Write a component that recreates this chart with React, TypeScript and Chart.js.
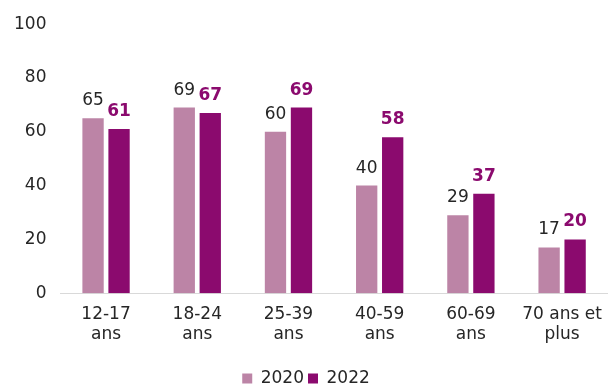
import React, { useEffect, useRef } from "react";
import { Chart, registerables } from "chart.js";

Chart.register(...registerables);

const categories: string[][] = [
  ["12-17", "ans"],
  ["18-24", "ans"],
  ["25-39", "ans"],
  ["40-59", "ans"],
  ["60-69", "ans"],
  ["70 ans et", "plus"],
];
const values2020 = [65, 69, 60, 40, 29, 17];
const values2022 = [61, 67, 69, 58, 37, 20];
const yTicks = [0, 20, 40, 60, 80, 100];

const FONT = "'DejaVu Sans', Verdana, sans-serif";
const SIZE = 17;

const labelPlugin = {
  id: "barLabels",
  afterDatasetsDraw(chart: any) {
    const ctx = chart.ctx;
    chart.data.datasets.forEach((ds: any, di: number) => {
      const meta = chart.getDatasetMeta(di);
      meta.data.forEach((bar: any, i: number) => {
        ctx.save();
        ctx.textAlign = "center";
        ctx.textBaseline = "alphabetic";
        if (di === 0) {
          ctx.font = `${SIZE}px ${FONT}`;
          ctx.fillStyle = "#262626";
        } else {
          ctx.font = `bold ${SIZE}px ${FONT}`;
          ctx.fillStyle = "#8B0A6E";
        }
        ctx.fillText(String(ds.data[i]), bar.x, bar.y - 13);
        ctx.restore();
      });
    });
  },
};

export default function App() {
  const ref = useRef<HTMLCanvasElement>(null);
  useEffect(() => {
    document.body.style.margin = "0";
    const chart = new Chart(ref.current!, {
      type: "bar",
      data: {
        labels: categories,
        datasets: [
          {
            label: "2020",
            data: values2020,
            backgroundColor: "#BC84A6",
            barPercentage: 0.82,
            categoryPercentage: 0.57,
          },
          {
            label: "2022",
            data: values2022,
            backgroundColor: "#8B0A6E",
            barPercentage: 0.82,
            categoryPercentage: 0.57,
          },
        ],
      },
      options: {
        animation: false,
        responsive: false,
        maintainAspectRatio: false,
        layout: { padding: { top: 2, right: 1, left: 0, bottom: -12 } },
        scales: {
          x: {
            grid: { display: false, drawTicks: false },
            border: { display: true, color: "#d9d9d9", width: 1 },
            ticks: {
              color: "#262626",
              font: { family: FONT, size: SIZE, lineHeight: 1.2 },
              padding: 11,
              maxRotation: 0,
              autoSkip: false,
            },
            afterFit: (scale: any) => {
              scale.height += 10;
            },
          },
          y: {
            min: 0,
            max: 100,
            afterBuildTicks: (axis: any) => {
              axis.ticks = yTicks.map((v) => ({ value: v }));
            },
            grid: { display: false, drawTicks: false },
            border: { display: false },
            ticks: {
              color: "#262626",
              font: { family: FONT, size: SIZE },
              padding: 14,
            },
          },
        },
        plugins: {
          legend: {
            position: "bottom",
            labels: {
              boxWidth: 10,
              boxHeight: 10,
              color: "#262626",
              font: { family: FONT, size: SIZE },
              padding: 4,
            },
          },
          tooltip: { enabled: false },
        },
      },
      plugins: [labelPlugin],
    });
    return () => chart.destroy();
  }, []);
  return <canvas ref={ref} width={613} height={385} style={{ display: "block" }} />;
}
